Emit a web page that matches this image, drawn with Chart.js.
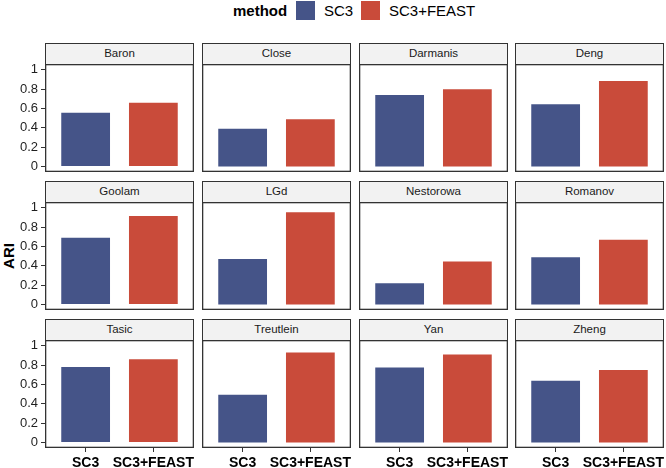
<!DOCTYPE html>
<html>
<head>
<meta charset="utf-8">
<script src="https://cdn.jsdelivr.net/npm/chart.js@4.4.1/dist/chart.umd.min.js"></script>
<style>
html,body{margin:0;padding:0;width:666px;height:468px;overflow:hidden;background:#fff;font-family:"Liberation Sans",Arial,Helvetica,sans-serif;}
#root{position:relative;width:666px;height:468px;}
.strip{position:absolute;box-sizing:border-box;background:#F2F2F2;border:1.3px solid #333;border-bottom:none;font-size:11.5px;color:#1a1a1a;text-align:center;}
.wrap{position:absolute;}
.legend{position:absolute;top:0;height:21px;line-height:21px;font-size:15px;color:#000;white-space:nowrap;}
.key{position:absolute;top:1px;width:19px;height:19px;}
#ari{position:absolute;left:8px;top:256px;font-size:15px;font-weight:bold;color:#000;transform:translate(-50%,-50%) rotate(-90deg);white-space:nowrap;}
</style>
</head>
<body>
<div id="root">
  <div class="legend" style="left:233px;font-weight:bold;">method</div>
  <div class="key" style="left:296px;background:#455488;"></div>
  <div class="legend" style="left:324px;">SC3</div>
  <div class="key" style="left:361px;background:#C94B3A;"></div>
  <div class="legend" style="left:389px;">SC3+FEAST</div>
  <div id="ari">ARI</div>
</div>
<script>
// ---- data ----
const datasetNames = ['Baron','Close','Darmanis','Deng','Goolam','LGd','Nestorowa','Romanov','Tasic','Treutlein','Yan','Zheng'];
const sc3Values   = [0.555, 0.39, 0.74, 0.645, 0.69, 0.47, 0.22, 0.49, 0.78, 0.495, 0.775, 0.64];
const feastValues = [0.66, 0.49, 0.80, 0.885, 0.915, 0.955, 0.445, 0.67, 0.86, 0.93, 0.91, 0.75];
const methods = ['SC3','SC3+FEAST'];
const yTickValues = [0, 0.2, 0.4, 0.6, 0.8, 1];
const yTickLabels = ['0','0.2','0.4','0.6','0.8','1'];

// ---- styling / layout ----
const methodColors = ['#455488','#C94B3A'];
const FONT = '"Liberation Sans", Arial, Helvetica, sans-serif';
const colX = [45, 202, 359, 515];
const stripTop = [43, 181, 319];
const stripH = 21;
const panelW = 149;
const panelH = 108;
const yAxisW = 45;
const xAxisH = 20;

const panelBorder = {
  id: 'panelBorder',
  afterDraw(chart) {
    const {ctx, chartArea: a} = chart;
    ctx.save();
    ctx.strokeStyle = '#333';
    ctx.lineWidth = 1.3;
    ctx.strokeRect(a.left + 0.65, a.top + 0.65, a.right - a.left - 1.3, a.bottom - a.top - 1.3);
    ctx.restore();
  }
};

const root = document.getElementById('root');

datasetNames.forEach((name, i) => {
  const r = Math.floor(i / 4), c = i % 4;
  const bodyTop = stripTop[r] + stripH;

  const strip = document.createElement('div');
  strip.className = 'strip';
  strip.style.left = colX[c] + 'px';
  strip.style.top = stripTop[r] + 'px';
  strip.style.width = panelW + 'px';
  strip.style.height = stripH + 'px';
  strip.style.lineHeight = (stripH - 3) + 'px';
  strip.textContent = name;
  root.appendChild(strip);

  const showY = c === 0, showX = r === 2;
  const left = showY ? colX[c] - yAxisW : colX[c];
  const w = panelW + (showY ? yAxisW : 0);
  const h = panelH + (showX ? xAxisH : 0);

  const wrap = document.createElement('div');
  wrap.className = 'wrap';
  wrap.style.left = left + 'px';
  wrap.style.top = bodyTop + 'px';
  wrap.style.width = w + 'px';
  wrap.style.height = h + 'px';
  const cv = document.createElement('canvas');
  cv.width = w; cv.height = h;
  cv.style.width = w + 'px'; cv.style.height = h + 'px';
  wrap.appendChild(cv);
  root.appendChild(wrap);

  new Chart(cv, {
    type: 'bar',
    data: {
      datasets: [{
        label: name,
        data: [{x: 1, y: sc3Values[i]}, {x: 2, y: feastValues[i]}],
        backgroundColor: methodColors,
        borderWidth: 0,
        barPercentage: 0.72,
        categoryPercentage: 1.0
      }]
    },
    options: {
      responsive: false,
      animation: false,
      devicePixelRatio: 1,
      events: [],
      layout: {padding: 0},
      plugins: {legend: {display: false}, tooltip: {enabled: false}, title: {display: false}},
      scales: {
        x: {
          type: 'linear',
          min: 0.4, max: 2.6,
          offset: false,
          display: showX,
          afterBuildTicks: s => { s.ticks = [{value: 1}, {value: 2}]; },
          afterFit: s => { s.height = showX ? xAxisH : 0; s.paddingLeft = 0; s.paddingRight = 0; },
          grid: {display: true, offset: false, drawOnChartArea: false, drawTicks: true, tickLength: 4, color: '#333', lineWidth: 1},
          border: {display: false},
          ticks: {
            autoSkip: false, maxRotation: 0, minRotation: 0, padding: 3,
            color: '#000',
            font: {size: 14, weight: 'bold', family: FONT},
            callback: (v) => methods[Math.round(v) - 1]
          }
        },
        y: {
          type: 'linear',
          min: -0.056, max: 1.06,
          display: showY,
          afterBuildTicks: s => { s.ticks = yTickValues.map(v => ({value: v})); },
          afterFit: s => { s.width = showY ? yAxisW : 0; s.paddingTop = 0; s.paddingBottom = 0; },
          grid: {display: true, drawOnChartArea: false, drawTicks: true, tickLength: 4, color: '#333', lineWidth: 1},
          border: {display: false},
          ticks: {
            autoSkip: false,
            padding: 3,
            color: '#1f1f1f',
            font: {size: 13, family: FONT},
            callback: (v, idx) => yTickLabels[idx]
          }
        }
      }
    },
    plugins: [panelBorder]
  });
});
</script>
</body>
</html>
